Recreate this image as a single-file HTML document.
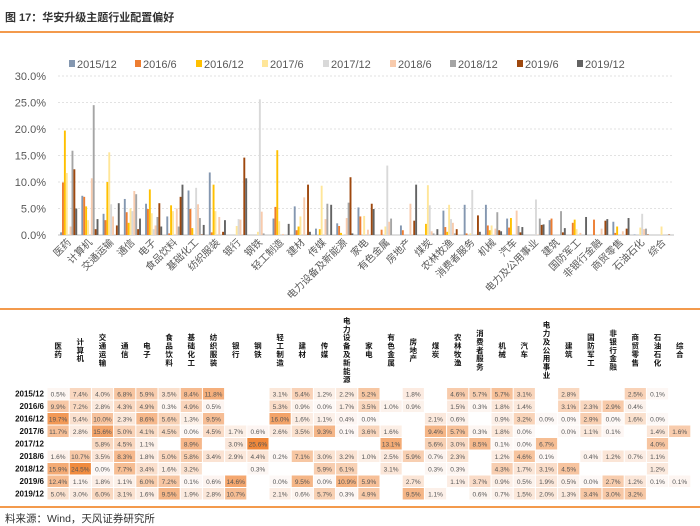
<!DOCTYPE html>
<html><head><meta charset="utf-8">
<style>
body{margin:0;width:700px;height:526px;background:#fff;font-family:"Liberation Sans","Noto Sans CJK SC",sans-serif;overflow:hidden;position:relative}
#title{position:absolute;left:5px;top:9px;font-size:11px;font-weight:bold;color:#333}
.hr{position:absolute;left:0;width:700px;height:2px;background:#f39a4c}
#src{position:absolute;left:5px;top:511px;font-size:10.5px;color:#333}
</style></head><body>
<div id="title">图 17：华安升级主题行业配置偏好</div>
<div class="hr" style="top:31px"></div>
<svg id="chart" width="700" height="300" style="position:absolute;left:0;top:0"></svg>
<div class="hr" style="top:308px;height:1.5px"></div>
<svg id="table" width="700" height="200" style="position:absolute;left:0;top:310px"></svg>
<div class="hr" style="top:506px;height:1.5px"></div>
<div id="src">料来源：Wind，天风证券研究所</div>
<script>
const categories=["医药","计算机","交通运输","通信","电子","食品饮料","基础化工","纺织服装","银行","钢铁","轻工制造","建材","传媒","电力设备及新能源","家电","有色金属","房地产","煤炭","农林牧渔","消费者服务","机械","汽车","电力及公用事业","建筑","国防军工","非银行金融","商贸零售","石油石化","综合"];
const seriesNames=["2015/12","2016/6","2016/12","2017/6","2017/12","2018/6","2018/12","2019/6","2019/12"];
const seriesColors=["#8497b0","#ed7d31","#ffc000","#ffe699","#d9d9d9","#f8cbad","#a5a5a5","#9e480e","#636363"];
const N=null;
const s2015_12=[0.5,7.4,4.0,6.8,5.9,3.5,8.4,11.8,N,N,3.1,5.4,1.2,2.2,5.2,N,1.8,N,4.6,5.7,5.7,3.1,N,2.8,N,N,2.5,0.1,N];
const s2016_6=[9.9,7.2,2.8,4.3,4.9,0.3,4.9,0.5,N,N,5.3,0.9,0.0,1.7,3.5,1.0,0.9,N,1.5,0.3,1.8,1.4,N,3.1,2.3,2.9,0.4,N,N];
const s2016_12=[19.7,5.4,10.0,2.3,8.6,5.6,1.3,9.5,N,N,16.0,1.6,1.1,0.4,0.0,N,N,2.1,0.6,N,0.9,3.2,0.0,0.0,2.9,0.0,1.6,0.0,N];
const s2017_6=[11.7,2.8,15.6,5.0,4.1,4.5,0.0,4.5,1.7,0.6,2.6,3.5,9.3,0.1,3.6,1.6,N,9.4,5.7,0.3,1.8,0.0,N,0.0,1.1,0.1,N,1.4,1.6];
const s2017_12=[N,N,5.8,4.5,1.1,N,8.9,N,3.0,25.6,N,N,N,N,N,13.1,N,5.6,3.0,8.5,0.1,0.0,6.7,N,N,N,N,4.0,N];
const s2018_6=[1.6,10.7,3.5,8.3,1.8,5.0,5.8,3.4,2.9,4.4,0.2,7.1,3.0,3.2,1.0,2.5,5.9,0.7,2.3,N,1.2,4.6,0.1,N,0.4,1.2,0.7,1.1,N];
const s2018_12=[15.9,24.5,0.0,7.7,3.4,1.6,3.2,N,N,0.3,N,N,5.9,6.1,N,3.1,N,0.3,0.3,N,4.3,1.7,3.1,4.5,N,N,N,1.2,N];
const s2019_6=[12.4,1.1,1.8,1.1,6.0,7.2,0.1,0.6,14.6,N,0.0,9.5,0.0,10.9,5.9,N,2.7,N,1.1,3.7,0.9,0.5,1.9,0.5,0.0,2.7,1.2,0.1,0.1];
const s2019_12=[5.0,3.0,6.0,3.1,1.6,9.5,1.9,2.8,10.7,N,2.1,0.6,5.7,0.3,4.9,N,9.5,1.1,N,0.6,0.7,1.5,2.0,1.3,3.4,3.0,3.2,N,N];
const series=[s2015_12,s2016_6,s2016_12,s2017_6,s2017_12,s2018_6,s2018_12,s2019_6,s2019_12];
const yTicks=[0,5,10,15,20,25,30];

const NS="http://www.w3.org/2000/svg";
function mk(parent,tag,attrs,text){const e=document.createElementNS(NS,tag);for(const k in attrs)e.setAttribute(k,attrs[k]);if(text!=null)e.textContent=text;parent.appendChild(e);return e;}
const chart=document.getElementById('chart');
const X0=58,X1=674,Y0=235,Y30=76;
const bw=(X1-X0)/categories.length;
const y=v=>Y0-(v/30)*(Y0-Y30);
const xc=i=>X0+bw*(i+0.5);
const legX=[69,135,196,262,323,390,450,517,577];
seriesNames.forEach((n,k)=>{
  const g=mk(chart,'g',{});
  
  
  mk(g,'rect',{x:legX[k],y:60,width:6,height:7,fill:seriesColors[k]});
  mk(g,'text',{x:legX[k]+8,y:68,'font-size':11,fill:'#595959'},n);
});
yTicks.forEach(t=>{
  if(t>0){const l=mk(chart,'line',{x1:X0,x2:X1,y1:y(t),y2:y(t),stroke:'#d9d9d9','stroke-dasharray':'2,2','stroke-width':0.8});
  }
  const tx=mk(chart,'text',{x:46,y:y(t)+4,'font-size':11,fill:'#595959','text-anchor':'end'},t.toFixed(1)+'%');
  
});
const ax=mk(chart,'line',{x1:X0,x2:X1,y1:Y0,y2:Y0,stroke:'#bfbfbf','stroke-width':1});

const barW=1.9;
series.forEach((s,k)=>{
  s.forEach((v,i)=>{
    if(v==null||v<=0)return;
    const r=mk(chart,'rect',{x:xc(i)-8.5+k*barW,y:y(v),width:barW,height:Y0-y(v),fill:seriesColors[k]});
    
    
  });
});
categories.forEach((c,i)=>{
  const t=mk(chart,'text',{x:xc(i)+3,y:Y0+8,'font-size':10,fill:'#595959','text-anchor':'end',transform:`rotate(-45 ${xc(i)+3} ${Y0+8})`},c);
  
  
});
const tb=document.getElementById('table');
const TX0=47,CW=22.2,RY0=77.5,RH=12.5;
categories.forEach((c,i)=>{
  const chars=[...c];const h=chars.length*8.4;const top=39-h/2;
  const t=mk(tb,'text',{'font-size':7.5,'font-weight':'bold',fill:'#111','text-anchor':'middle'});
  
  
  chars.forEach((ch,j)=>{mk(t,'tspan',{x:TX0+CW*(i+0.5),y:top+8+j*8.4},ch);});
});
const colMax=categories.map((c,i)=>Math.max(...series.map(s=>s[i]==null?0:s[i])));
const gMax=Math.max(...colMax);
seriesNames.forEach((n,k)=>{
  const ry=RY0+k*RH;
  const rl=mk(tb,'text',{x:44,y:ry+9,'font-size':8,'font-weight':'bold',fill:'#111','text-anchor':'end'},n);
  
  
  series[k].forEach((v,i)=>{
    if(v==null)return;
    const fc=colMax[i]>0?v/colMax[i]:0;
    const f=0.35*fc+0.65*(v/gMax);
    const r=Math.round(253-f*13),g=Math.round(248-f*(248-136)),b=Math.round(246-f*(246-58));
    const cell=mk(tb,'rect',{x:TX0+CW*i+0.5,y:ry+0.5,width:CW-1,height:RH-1,fill:`rgb(${r},${g},${b})`});
    
    
    const t=mk(tb,'text',{x:TX0+CW*(i+0.5),y:ry+8.8,'font-size':6.5,fill:'#555','text-anchor':'middle'},v.toFixed(1)+'%');
    
    
  });
});
</script>
</body></html>
